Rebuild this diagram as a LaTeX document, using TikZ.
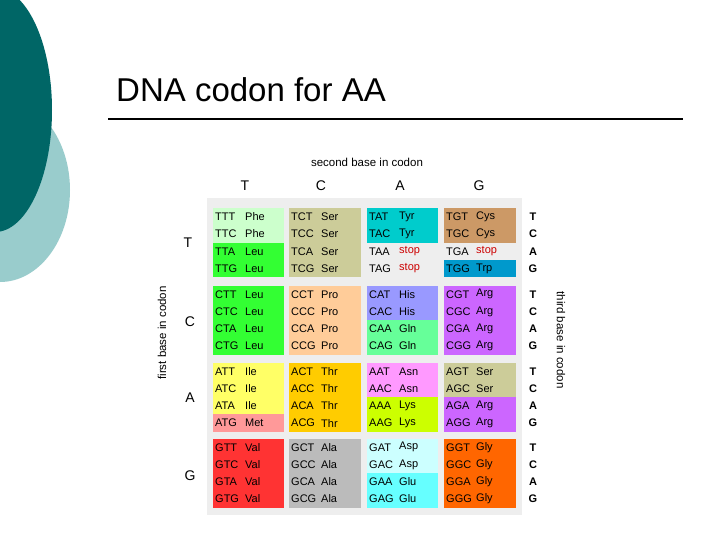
\documentclass[tikz,border=0pt]{standalone}
\usepackage{fontspec}
\setmainfont{Liberation Sans}
\begin{document}
\begin{tikzpicture}[x=1pt,y=-1pt,
 cod/.style={anchor=west,inner sep=0pt,font=\fontsize{11}{12}\selectfont},
 hdr/.style={inner sep=0pt,font=\fontsize{14}{16}\selectfont},
 lbl/.style={inner sep=0pt,font=\fontsize{11.5}{13}\selectfont}]
\useasboundingbox (0,0) rectangle (720,540);
\fill[white] (0,0) rectangle (720,540);
\fill[color={rgb,255:red,153;green,204;blue,204}] (0,190) ellipse (70 and 92);
\fill[color={rgb,255:red,0;green,102;blue,102}] (-5,110) ellipse (57 and 122);
\node[anchor=base west,inner sep=0pt,font=\fontsize{33}{36}\selectfont] (title) at (116,102) {DNA codon for AA};
\draw[line width=1.3pt] (108,119) coordinate (l1) -- (683,119) coordinate (l2);
\fill[color={rgb,255:red,238;green,238;blue,238}] (207,198) rectangle (522,515);
\node[lbl] (sb) at (367,162) {second base in codon};
\node[hdr] (h1) at (245,186) {T};
\node[hdr] (h2) at (321,186) {C};
\node[hdr] (h3) at (400,186) {A};
\node[hdr] (h4) at (479,186) {G};
\node[hdr] (f1) at (188,243) {T};
\node[hdr] (f2) at (190,322) {C};
\node[hdr] (f3) at (190,398) {A};
\node[hdr] (f4) at (190,476) {G};
\node[lbl,rotate=90] (fb) at (162,333) {first base in codon};
\node[lbl,rotate=-90] (tb) at (561,340) {third base in codon};
\def\bx#1{\ifcase#1 213\or 289\or 367\or 444\fi}
\def\bw#1{\ifcase#1 71\or 72\or 71\or 72\fi}
\def\by#1{\ifcase#1 208\or 285.5\or 362.5\or 438.5\fi}
% \cell{col}{row}{sub}{color}{codon}{aa}
\newcommand\cell[6]{%
 \pgfmathsetmacro\cx{\bx{#1}}\pgfmathsetmacro\cw{\bw{#1}}%
 \pgfmathsetmacro\cy{\by{#2}+#3*17.25}%
 \ifx\relax#4\relax\else\fill[color=#4] (\cx,\cy) rectangle ++(\cw,17.25);\fi
 \node[cod] (c#1#2#3) at (\cx+2,\cy+8.8) {#5};
 \node[cod] (a#1#2#3) at (\cx+32,\cy+8.8) {#6};}
\definecolor{lg}{HTML}{CCFFCC}\definecolor{gr}{HTML}{33FF33}\definecolor{kh}{HTML}{CCCC99}
\definecolor{cy}{HTML}{00CCCC}\definecolor{br}{HTML}{CC9966}\definecolor{bl}{HTML}{0099CC}
\definecolor{pe}{HTML}{FFCC99}\definecolor{lb}{HTML}{9999FF}\definecolor{mg}{HTML}{66FF99}
\definecolor{pu}{HTML}{CC66FF}\definecolor{ye}{HTML}{FFFF66}\definecolor{pk}{HTML}{FF9999}
\definecolor{or}{HTML}{FFCC00}\definecolor{vi}{HTML}{FF99FF}\definecolor{li}{HTML}{CCFF00}
\definecolor{rd}{HTML}{FF3333}\definecolor{gy}{HTML}{BBBBBB}\definecolor{pc}{HTML}{CCFFFF}
\definecolor{ac}{HTML}{66FFFF}\definecolor{og}{HTML}{FF6600}\definecolor{st}{HTML}{CC0000}
\cell00{0}{lg}{TTT}{Phe}\cell00{1}{lg}{TTC}{Phe}\cell00{2}{gr}{TTA}{Leu}\cell00{3}{gr}{TTG}{Leu}
\cell10{0}{kh}{TCT}{Ser}\cell10{1}{kh}{TCC}{Ser}\cell10{2}{kh}{TCA}{Ser}\cell10{3}{kh}{TCG}{Ser}
\cell20{0}{cy}{TAT}{Tyr}\cell20{1}{cy}{TAC}{Tyr}\cell20{2}{}{TAA}{\textcolor{st}{stop}}\cell20{3}{}{TAG}{\textcolor{st}{stop}}
\cell30{0}{br}{TGT}{Cys}\cell30{1}{br}{TGC}{Cys}\cell30{2}{}{TGA}{\textcolor{st}{stop}}\cell30{3}{bl}{TGG}{Trp}
\cell01{0}{gr}{CTT}{Leu}\cell01{1}{gr}{CTC}{Leu}\cell01{2}{gr}{CTA}{Leu}\cell01{3}{gr}{CTG}{Leu}
\cell11{0}{pe}{CCT}{Pro}\cell11{1}{pe}{CCC}{Pro}\cell11{2}{pe}{CCA}{Pro}\cell11{3}{pe}{CCG}{Pro}
\cell21{0}{lb}{CAT}{His}\cell21{1}{lb}{CAC}{His}\cell21{2}{mg}{CAA}{Gln}\cell21{3}{mg}{CAG}{Gln}
\cell31{0}{pu}{CGT}{Arg}\cell31{1}{pu}{CGC}{Arg}\cell31{2}{pu}{CGA}{Arg}\cell31{3}{pu}{CGG}{Arg}
\cell02{0}{ye}{ATT}{Ile}\cell02{1}{ye}{ATC}{Ile}\cell02{2}{ye}{ATA}{Ile}\cell02{3}{pk}{ATG}{Met}
\cell12{0}{or}{ACT}{Thr}\cell12{1}{or}{ACC}{Thr}\cell12{2}{or}{ACA}{Thr}\cell12{3}{or}{ACG}{Thr}
\cell22{0}{vi}{AAT}{Asn}\cell22{1}{vi}{AAC}{Asn}\cell22{2}{li}{AAA}{Lys}\cell22{3}{li}{AAG}{Lys}
\cell32{0}{kh}{AGT}{Ser}\cell32{1}{kh}{AGC}{Ser}\cell32{2}{pu}{AGA}{Arg}\cell32{3}{pu}{AGG}{Arg}
\cell03{0}{rd}{GTT}{Val}\cell03{1}{rd}{GTC}{Val}\cell03{2}{rd}{GTA}{Val}\cell03{3}{rd}{GTG}{Val}
\cell13{0}{gy}{GCT}{Ala}\cell13{1}{gy}{GCC}{Ala}\cell13{2}{gy}{GCA}{Ala}\cell13{3}{gy}{GCG}{Ala}
\cell23{0}{pc}{GAT}{Asp}\cell23{1}{pc}{GAC}{Asp}\cell23{2}{ac}{GAA}{Glu}\cell23{3}{ac}{GAG}{Glu}
\cell33{0}{og}{GGT}{Gly}\cell33{1}{og}{GGC}{Gly}\cell33{2}{og}{GGA}{Gly}\cell33{3}{og}{GGG}{Gly}
\foreach \r in {0,1,2,3}{
 \foreach \b [count=\i from 0] in {T,C,A,G}{
  \pgfmathsetmacro\ty{\by{\r}+\i*17.25+8.8}
  \node[cod,anchor=center,font=\fontsize{11}{12}\selectfont\bfseries] (t\r\i) at (533,\ty) {\b};}}
\end{tikzpicture}
\end{document}
